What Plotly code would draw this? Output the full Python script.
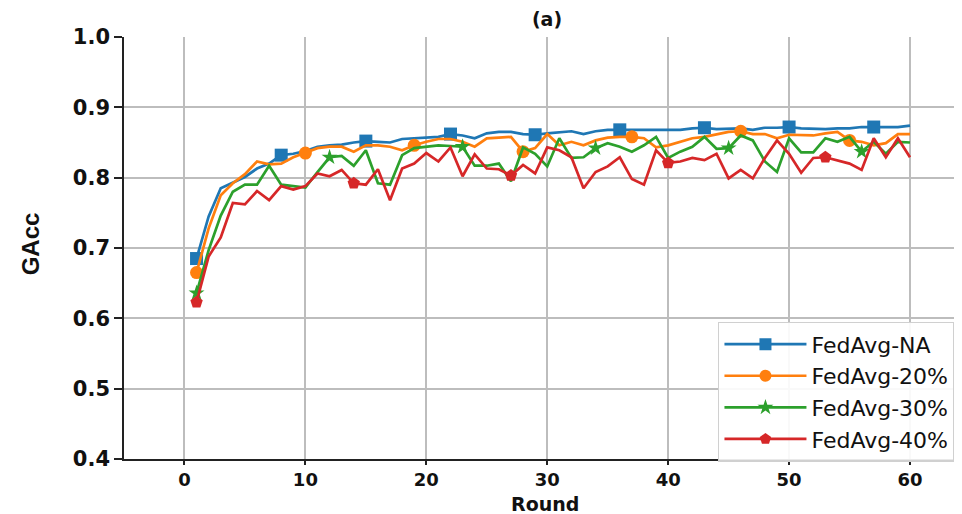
import plotly.graph_objects as go

rounds = list(range(1, 61))

fedavg_na = [0.685, 0.745, 0.785, 0.793, 0.801, 0.813, 0.820, 0.832, 0.834, 0.838,
             0.844, 0.846, 0.847, 0.850, 0.852, 0.851, 0.850, 0.855, 0.856, 0.857,
             0.858, 0.862, 0.860, 0.856, 0.863, 0.865, 0.865, 0.862, 0.861, 0.863,
             0.865, 0.866, 0.862, 0.866, 0.868, 0.868, 0.869, 0.869, 0.869, 0.868,
             0.868, 0.870, 0.871, 0.869, 0.870, 0.870, 0.868, 0.871, 0.871, 0.872,
             0.870, 0.869, 0.869, 0.870, 0.870, 0.872, 0.872, 0.872, 0.872, 0.874]

fedavg_20 = [0.665, 0.728, 0.775, 0.792, 0.805, 0.823, 0.819, 0.820, 0.829, 0.835,
             0.842, 0.844, 0.844, 0.837, 0.846, 0.846, 0.844, 0.839, 0.846, 0.851,
             0.855, 0.855, 0.851, 0.844, 0.856, 0.857, 0.858, 0.837, 0.842, 0.862,
             0.846, 0.851, 0.846, 0.853, 0.857, 0.858, 0.858, 0.856, 0.843, 0.846,
             0.851, 0.856, 0.858, 0.862, 0.865, 0.866, 0.862, 0.862, 0.856, 0.861,
             0.861, 0.860, 0.863, 0.865, 0.853, 0.851, 0.846, 0.849, 0.862, 0.862]

fedavg_30 = [0.636, 0.697, 0.746, 0.780, 0.790, 0.790, 0.817, 0.790, 0.788, 0.786,
             0.808, 0.829, 0.831, 0.817, 0.839, 0.792, 0.790, 0.832, 0.842, 0.844,
             0.846, 0.845, 0.844, 0.817, 0.817, 0.820, 0.795, 0.843, 0.834, 0.816,
             0.856, 0.828, 0.829, 0.842, 0.849, 0.844, 0.837, 0.846, 0.858, 0.828,
             0.837, 0.844, 0.858, 0.841, 0.842, 0.860, 0.853, 0.823, 0.808, 0.856,
             0.836, 0.836, 0.856, 0.851, 0.858, 0.837, 0.851, 0.834, 0.851, 0.850]

fedavg_40 = [0.623, 0.688, 0.715, 0.764, 0.762, 0.781, 0.768, 0.788, 0.783, 0.788,
             0.806, 0.802, 0.811, 0.792, 0.790, 0.812, 0.768, 0.813, 0.820, 0.835,
             0.823, 0.843, 0.802, 0.833, 0.813, 0.812, 0.803, 0.818, 0.806, 0.843,
             0.839, 0.829, 0.785, 0.808, 0.816, 0.829, 0.798, 0.790, 0.839, 0.821,
             0.823, 0.828, 0.825, 0.834, 0.799, 0.811, 0.799, 0.828, 0.853, 0.834,
             0.807, 0.828, 0.829, 0.825, 0.820, 0.811, 0.856, 0.829, 0.856, 0.829]

series_names = ["FedAvg-NA", "FedAvg-20%", "FedAvg-30%", "FedAvg-40%"]
series_values = [fedavg_na, fedavg_20, fedavg_30, fedavg_40]
colors = ["#1f77b4", "#ff7f0e", "#2ca02c", "#d62728"]
symbols = ["square", "circle", "star", "pentagon"]
mark_every = [7, 9, 11, 13]
x_ticks = [0, 10, 20, 30, 40, 50, 60]
y_ticks = [0.4, 0.5, 0.6, 0.7, 0.8, 0.9, 1.0]

fig = go.Figure()
for name, vals, c, s, me in zip(series_names, series_values, colors, symbols, mark_every):
    fig.add_trace(go.Scatter(x=rounds, y=vals, mode="lines",
                             line=dict(color=c, width=2.7), showlegend=False,
                             hoverinfo="skip"))
    fig.add_trace(go.Scatter(x=rounds[::me], y=vals[::me], mode="markers",
                             marker=dict(color=c, symbol=s, size=13 if s != "star" else 12),
                             showlegend=False))
for name, c, s in zip(series_names, colors, symbols):
    fig.add_trace(go.Scatter(x=[None], y=[None], mode="lines+markers", name=name,
                             line=dict(color=c, width=2.7),
                             marker=dict(color=c, symbol=s, size=12)))

bold_font = "DejaVu Sans, Verdana, sans-serif"

fig.update_layout(
    width=954, height=506,
    margin=dict(l=116, r=0, t=29, b=55),
    paper_bgcolor="white", plot_bgcolor="white",
    title=dict(text="<b>(a)</b>", x=539/954, xanchor="center", y=1 - 11/506, yanchor="middle",
               font=dict(family=bold_font, size=19, color="#111111")),
    xaxis=dict(range=[-5, 64.3], tickvals=x_ticks, ticktext=[f"<b>{v}</b>" for v in x_ticks],
               showgrid=True, gridcolor="#bdbdbd", gridwidth=1.6, zeroline=False,
               showline=True, linecolor="#222222", linewidth=1.6,
               ticks="outside", ticklen=4, tickwidth=1.6, tickcolor="#222222",
               tickfont=dict(family=bold_font, size=18, color="#111111"),
               automargin=False),
    yaxis=dict(range=[0.4, 1.0], tickvals=y_ticks, ticktext=[f"<b>{v:.1f}</b>" for v in y_ticks],
               showgrid=True, gridcolor="#bdbdbd", gridwidth=1.6, zeroline=False,
               showline=True, linecolor="#222222", linewidth=1.6,
               ticks="outside", ticklen=8, tickwidth=1.6, tickcolor="#222222",
               tickfont=dict(family=bold_font, size=21, color="#111111"),
               automargin=False),
    annotations=[
        dict(text="<b>Round</b>", xref="paper", yref="paper", x=0.502, y=-0.1065,
             xanchor="center", yanchor="middle", showarrow=False,
             font=dict(family=bold_font, size=19, color="#111111")),
        dict(text="<b>GAcc</b>", xref="paper", yref="paper", x=-0.112, y=0.509,
             xanchor="center", yanchor="middle", showarrow=False, textangle=-90,
             font=dict(family="Liberation Sans Narrow, Arial Narrow, sans-serif", size=24, color="#111111")),
    ],
    legend=dict(x=0.9916, xanchor="right", y=0.325, yanchor="top",
                bgcolor="rgba(255,255,255,0.9)", bordercolor="#d0d0d0", borderwidth=1.5,
                font=dict(family="DejaVu Sans, Verdana, sans-serif", size=22, color="#111111"),
                itemwidth=82),
)

fig.write_html("out.html")
